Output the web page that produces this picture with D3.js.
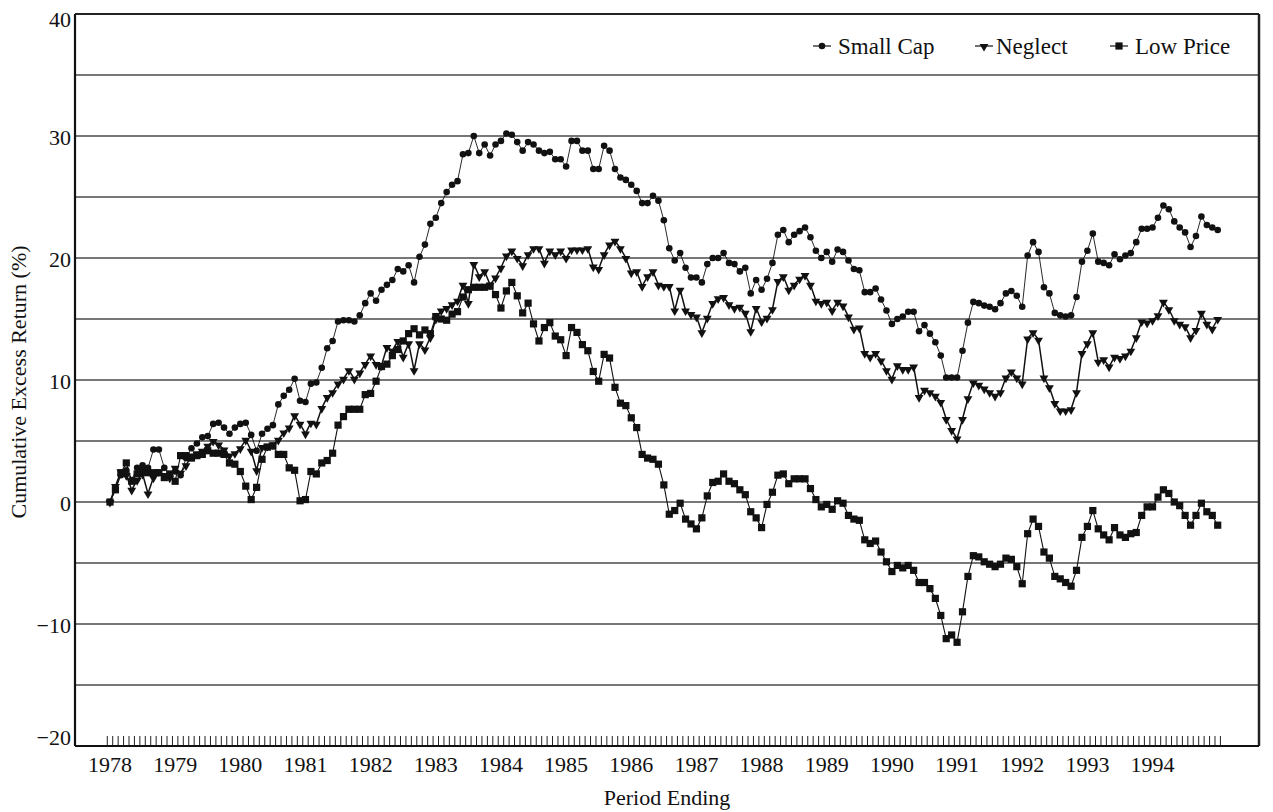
<!DOCTYPE html>
<html>
<head>
<meta charset="utf-8">
<script src="https://cdn.jsdelivr.net/npm/d3@7"></script>
<style>
  html, body { margin: 0; padding: 0; background: #fff; }
  svg { display: block; }
  text { font-family: "Liberation Serif", "Times New Roman", serif; fill: #111; }
</style>
</head>
<body>
<svg id="chart" width="1273" height="812"></svg>
<script>
// ---------- data ----------
const yearLabels = ["1978","1979","1980","1981","1982","1983","1984","1985","1986","1987","1988","1989","1990","1991","1992","1993","1994"];
const yTickValues = [-20, -10, 0, 10, 20, 30, 40];
const gridValues = [-15, -10, -5, 0, 5, 10, 15, 20, 25, 30, 35];
const seriesNames = ["Small Cap", "Neglect", "Low Price"];

const smallCap = [
  0, 1.0, 2.2, 2.6, 1.8, 2.8, 3.0, 2.8, 4.3, 4.3, 2.8, 2.2,
  2.5, 2.2, 3.6, 4.4, 4.8, 5.3, 5.4, 6.4, 6.5, 6.1, 5.6, 6.1,
  6.4, 6.5, 5.5, 4.2, 5.6, 6.0, 6.3, 8.0, 8.7, 9.2, 10.1, 8.3,
  8.2, 9.7, 9.8, 11.0, 12.6, 13.2, 14.8, 14.9, 14.9, 14.8, 15.3, 16.3,
  17.1, 16.5, 17.4, 17.8, 18.2, 19.1, 18.9, 19.4, 18.0, 20.1, 21.1, 22.8,
  23.3, 24.5, 25.4, 26.0, 26.3, 28.5, 28.6, 30.0, 28.6, 29.3, 28.4, 29.3,
  29.6, 30.2, 30.1, 29.5, 28.8, 29.5, 29.3, 28.8, 28.6, 28.7, 28.1, 28.1,
  27.5, 29.6, 29.6, 28.8, 28.8, 27.3, 27.3, 29.2, 28.8, 27.3, 26.6, 26.4,
  26.0, 25.5, 24.5, 24.5, 25.1, 24.7, 23.1, 20.8, 19.8, 20.4, 19.2, 18.4,
  18.4, 18.0, 19.5, 20.0, 20.0, 20.4, 19.6, 19.5, 18.9, 19.2, 17.1, 18.2,
  17.4, 18.3, 19.6, 21.9, 22.3, 21.3, 21.9, 22.2, 22.5, 21.7, 20.6, 20.0,
  20.5, 19.7, 20.7, 20.5, 19.8, 19.1, 19.0, 17.2, 17.2, 17.5, 16.6, 15.7,
  14.6, 15.0, 15.2, 15.6, 15.6, 14.0, 14.5, 13.8, 13.1, 12.0, 10.2, 10.2,
  10.2, 12.4, 14.7, 16.4, 16.3, 16.1, 16.0, 15.8, 16.3, 17.1, 17.3, 16.9,
  16.0, 20.2, 21.3, 20.5, 17.6, 17.1, 15.5, 15.3, 15.2, 15.3, 16.8, 19.7,
  20.6, 22.0, 19.7, 19.6, 19.4, 20.3, 19.9, 20.2, 20.4, 21.3, 22.4, 22.4,
  22.5, 23.3, 24.3, 24.0, 23.0, 22.5, 22.1, 20.9, 21.8, 23.4, 22.7, 22.5,
  22.3
];

const neglect = [
  0, 1.3, 2.5, 2.2, 1.0, 1.8, 2.3, 0.7, 2.0, 2.5, 2.2, 2.0,
  2.8, 2.4, 3.0, 3.8, 4.0, 4.2, 4.6, 5.0, 4.7, 4.3, 3.8, 4.0,
  4.4, 5.1, 4.2, 2.6, 4.5, 4.6, 4.7, 5.1, 5.7, 6.1, 7.1, 6.4,
  5.6, 6.5, 6.4, 7.7, 8.6, 9.0, 9.7, 10.1, 10.8, 10.1, 10.6, 11.3,
  12.0, 11.3, 11.2, 12.7, 12.4, 13.2, 11.9, 13.0, 10.8, 13.0, 12.5, 13.5,
  15.0, 15.7, 15.9, 16.2, 16.5, 17.8, 16.3, 19.5, 18.5, 18.9, 17.8, 18.4,
  19.2, 20.2, 20.6, 20.0, 19.4, 20.3, 20.8, 20.8, 19.6, 20.6, 20.3, 20.6,
  20.0, 20.7, 20.7, 20.7, 20.8, 19.3, 19.1, 20.3, 21.1, 21.4, 20.8, 20.0,
  18.8, 18.9, 17.7, 18.5, 18.9, 17.8, 17.7, 17.7, 15.7, 17.4, 15.7, 15.4,
  15.2, 13.9, 15.1, 16.3, 16.7, 16.8, 16.2, 15.9, 16.0, 15.5, 14.0, 15.9,
  14.8, 15.1, 15.8, 18.1, 18.5, 17.4, 17.8, 18.3, 18.6, 17.8, 16.5, 16.3,
  16.4, 15.7, 16.4, 16.1, 15.2, 14.2, 14.3, 12.2, 11.9, 12.2, 11.6, 10.8,
  10.1, 11.2, 10.9, 10.9, 11.1, 8.6, 9.2, 9.0, 8.7, 8.2, 6.8, 5.9,
  5.2, 6.8, 8.5, 9.8, 9.6, 9.3, 9.0, 8.7, 9.0, 10.2, 10.7, 10.2,
  9.7, 13.4, 13.9, 13.3, 10.2, 9.4, 8.1, 7.5, 7.5, 7.6, 9.0, 12.2,
  13.0, 13.9, 11.5, 11.7, 11.1, 11.9, 11.8, 12.0, 12.4, 13.5, 14.8, 14.7,
  14.9, 15.3, 16.4, 15.8, 14.9, 14.6, 14.4, 13.5, 14.1, 15.5, 14.6, 14.2,
  15.0
];

const lowPrice = [
  0, 1.0, 2.4, 3.2, 1.7, 2.3, 2.5, 2.4, 2.4, 2.4, 2.0, 2.3,
  1.7, 3.8, 3.8, 3.6, 3.8, 3.9, 4.2, 4.0, 4.0, 3.9, 3.2, 3.1,
  2.5, 1.3, 0.2, 1.2, 3.5, 4.5, 4.6, 3.9, 3.9, 2.8, 2.6, 0.1,
  0.2, 2.5, 2.3, 3.2, 3.4, 4.0, 6.3, 7.0, 7.6, 7.6, 7.6, 8.8,
  8.9, 9.9, 11.1, 11.3, 12.0, 12.5, 13.2, 13.8, 14.2, 13.7, 14.1, 13.8,
  15.2, 15.0, 14.9, 15.4, 15.6, 16.8, 17.4, 17.6, 17.6, 17.6, 17.7, 17.0,
  15.9, 17.3, 18.0, 16.9, 15.5, 16.3, 14.6, 13.2, 14.3, 14.7, 13.6, 13.3,
  12.0, 14.3, 13.9, 12.9, 12.4, 10.7, 9.9, 12.1, 11.8, 9.4, 8.1, 7.9,
  6.9, 6.1, 3.9, 3.6, 3.5, 3.1, 1.4, -1.0, -0.7, -0.1, -1.4, -1.8,
  -2.2, -1.3, 0.5, 1.6, 1.7, 2.3, 1.7, 1.5, 1.0, 0.6, -0.8, -1.3,
  -2.1, -0.2, 0.8, 2.2, 2.3, 1.5, 1.9, 1.9, 1.9, 1.1, 0.2, -0.4,
  -0.2, -0.6, 0.1, -0.1, -1.1, -1.4, -1.5, -3.1, -3.4, -3.2, -4.1, -4.9,
  -5.7, -5.2, -5.4, -5.2, -5.6, -6.6, -6.6, -7.1, -7.9, -9.3, -11.2, -10.9,
  -11.5, -9.0, -6.1, -4.4, -4.5, -4.9, -5.1, -5.3, -5.1, -4.6, -4.7, -5.3,
  -6.7, -2.6, -1.4, -2.0, -4.1, -4.6, -6.1, -6.3, -6.6, -6.9, -5.6, -2.9,
  -2.0, -0.7, -2.2, -2.7, -3.1, -2.1, -2.7, -2.9, -2.6, -2.5, -1.1, -0.4,
  -0.4, 0.4, 1.0, 0.7, 0.0, -0.3, -1.1, -1.9, -1.1, -0.1, -0.8, -1.1,
  -1.9
];

// ---------- layout ----------
const svg = d3.select("#chart");
const L = 75, R = 1259, T = 14, B = 746;
const nMonths = smallCap.length;

const x = d3.scaleLinear().domain([0, nMonths - 1]).range([110, 1217.7]);
const y = d3.scaleLinear().domain([-20, 40]).range([B, T]);

// gridlines
svg.append("g").selectAll("line").data(gridValues).join("line")
  .attr("x1", L).attr("x2", R)
  .attr("y1", d => y(d)).attr("y2", d => y(d))
  .attr("stroke", "#4a4a4a").attr("stroke-width", 1.4);

// monthly ticks along the bottom
const monthTicks = d3.range(0, nMonths + 1);
svg.append("g").selectAll("line").data(monthTicks).join("line")
  .attr("x1", d => x(d - 0.5)).attr("x2", d => x(d - 0.5))
  .attr("y1", B - 10).attr("y2", B)
  .attr("stroke", "#222").attr("stroke-width", 1);

// frame
svg.append("line").attr("x1", L).attr("x2", L).attr("y1", T).attr("y2", B).attr("stroke", "#111").attr("stroke-width", 2.2);
svg.append("line").attr("x1", L).attr("x2", R).attr("y1", T).attr("y2", T).attr("stroke", "#222").attr("stroke-width", 2);
svg.append("line").attr("x1", R).attr("x2", R).attr("y1", T).attr("y2", B).attr("stroke", "#222").attr("stroke-width", 2.5);
svg.append("line").attr("x1", L).attr("x2", R).attr("y1", B).attr("y2", B).attr("stroke", "#111").attr("stroke-width", 2);

// y tick labels
svg.append("g").selectAll("text").data(yTickValues).join("text")
  .attr("x", 71)
  .attr("y", d => Math.min(Math.max(y(d) + 9, 27), 745))
  .attr("text-anchor", "end")
  .attr("font-size", 22)
  .text(d => d < 0 ? "\u2212" + Math.abs(d) : String(d));

// year labels
svg.append("g").selectAll("text").data(yearLabels).join("text")
  .attr("x", (d, i) => x(i * 12))
  .attr("y", 772)
  .attr("text-anchor", "middle")
  .attr("font-size", 22)
  .text(d => d);

// axis titles
svg.append("text")
  .attr("x", (L + R) / 2).attr("y", 805)
  .attr("text-anchor", "middle").attr("font-size", 22)
  .text("Period Ending");
svg.append("text")
  .attr("transform", "translate(26,382) rotate(-90)")
  .attr("text-anchor", "middle").attr("font-size", 22)
  .text("Cumulative Excess Return (%)");

// series
const series = [
  { name: seriesNames[0], values: smallCap, width: 0.9, shape: "circle" },
  { name: seriesNames[1], values: neglect, width: 1.5, shape: "triangle" },
  { name: seriesNames[2], values: lowPrice, width: 1.1, shape: "square" }
];

const line = d3.line().x((d, i) => x(i)).y(d => y(d));

function drawMarker(g, shape, cx, cy) {
  if (shape === "circle") {
    g.append("circle").attr("cx", cx).attr("cy", cy).attr("r", 3.3).attr("fill", "#111");
  } else if (shape === "triangle") {
    g.append("path").attr("d", d3.symbol(d3.symbolTriangle, 34)())
      .attr("transform", `translate(${cx},${cy + 0.5}) rotate(180)`).attr("fill", "#111");
  } else {
    g.append("rect").attr("x", cx - 3.6).attr("y", cy - 3.6).attr("width", 7.2).attr("height", 7.2).attr("fill", "#111");
  }
}

series.forEach(s => {
  svg.append("path").datum(s.values)
    .attr("d", line).attr("fill", "none")
    .attr("stroke", "#111").attr("stroke-width", s.width).attr("stroke-linejoin", "round");
});
series.forEach(s => {
  const g = svg.append("g");
  s.values.forEach((v, i) => drawMarker(g, s.shape, x(i), y(v)));
});

// legend
const legendItems = [
  { name: seriesNames[0], shape: "circle", mx: 822, tx: 838 },
  { name: seriesNames[1], shape: "triangle", mx: 984, tx: 996 },
  { name: seriesNames[2], shape: "square", mx: 1119, tx: 1135 }
];
const lg = svg.append("g");
legendItems.forEach(it => {
  lg.append("line").attr("x1", it.mx - 9).attr("x2", it.mx + 9).attr("y1", 46).attr("y2", 46)
    .attr("stroke", "#111").attr("stroke-width", 1.2);
  drawMarker(lg, it.shape, it.mx, 46);
  lg.append("text").attr("x", it.tx).attr("y", 54).attr("font-size", 23).text(it.name);
});
</script>
</body>
</html>
